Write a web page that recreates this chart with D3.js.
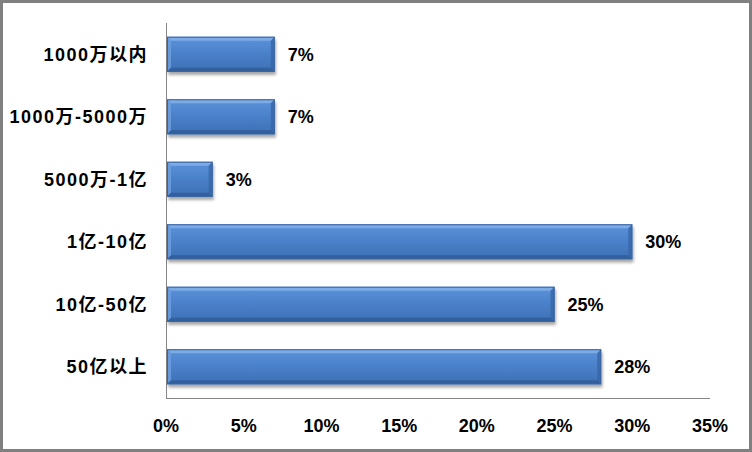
<!DOCTYPE html>
<html><head><meta charset="utf-8">
<script src="https://cdn.jsdelivr.net/npm/d3@7"></script>
<style>html,body{margin:0;padding:0;background:#fff;}svg{display:block;}</style>
</head><body>
<script>
const categories = ["1000万以内","1000万-5000万","5000万-1亿","1亿-10亿","10亿-50亿","50亿以上"];
const values = [7, 7, 3, 30, 25, 28];
const tickValues = [0,5,10,15,20,25,30,35];

const W = 752, H = 452;
const margin = {left:166, right:42, top:23, bottom:54};
const svg = d3.select("body").append("svg").attr("width", W).attr("height", H);
const defs = svg.append("defs");
const g1 = defs.append("linearGradient").attr("id","barGrad").attr("x1",0).attr("y1",0).attr("x2",0).attr("y2",1);
g1.append("stop").attr("offset","0%").attr("stop-color","#5b93da");
g1.append("stop").attr("offset","50%").attr("stop-color","#4a80c9");
g1.append("stop").attr("offset","100%").attr("stop-color","#3d70b4");
const f = defs.append("filter").attr("id","shadow").attr("x","-10%").attr("y","-20%").attr("width","130%").attr("height","160%");
f.append("feGaussianBlur").attr("in","SourceAlpha").attr("stdDeviation",1.5).attr("result","b");
f.append("feOffset").attr("in","b").attr("dx",1).attr("dy",3).attr("result","o");
f.append("feComponentTransfer").attr("in","o").attr("result","o2").append("feFuncA").attr("type","linear").attr("slope",0.35);
const fm = f.append("feMerge"); fm.append("feMergeNode").attr("in","o2"); fm.append("feMergeNode").attr("in","SourceGraphic");

// outer border
svg.append("rect").attr("x",1.5).attr("y",1.5).attr("width",W-3).attr("height",H-3)
  .attr("fill","#fff").attr("stroke","#808080").attr("stroke-width",3);

const x = d3.scaleLinear().domain([0,35]).range([margin.left, W-margin.right]);
const y = d3.scaleBand().domain(categories).range([margin.top, H-margin.bottom]).paddingInner(0.44).paddingOuter(0.22);

const font = "'Liberation Sans','Noto Sans CJK SC',sans-serif";

// axes lines
svg.append("line").attr("x1",x(0)+0.5).attr("x2",x(0)+0.5).attr("y1",margin.top).attr("y2",H-margin.bottom)
  .attr("stroke","#868686").attr("stroke-width",1);
svg.append("line").attr("x1",x(0)).attr("x2",x(35)).attr("y1",H-margin.bottom+0.5).attr("y2",H-margin.bottom+0.5)
  .attr("stroke","#868686").attr("stroke-width",1);

// bars
const bars = svg.append("g").selectAll("g").data(categories).join("g").attr("filter","url(#shadow)");
const bv = 4;
bars.each(function(c,i){
  const gg = d3.select(this);
  const x0 = x(0)+1, x1 = x(values[i]), y0 = y(c), h = y.bandwidth(), y1 = y0+h;
  gg.append("rect").attr("x",x0).attr("y",y0).attr("width",x1-x0).attr("height",h).attr("fill","url(#barGrad)");
  gg.append("polygon").attr("points",[[x0,y0],[x1,y0],[x1-bv,y0+bv],[x0+bv,y0+bv]].join(" ")).attr("fill","#84b2ea").attr("opacity",0.8);
  gg.append("polygon").attr("points",[[x0,y0],[x0+bv,y0+bv],[x0+bv,y1-bv],[x0,y1]].join(" ")).attr("fill","#6ea0e0").attr("opacity",0.8);
  gg.append("polygon").attr("points",[[x1,y0],[x1,y1],[x1-bv,y1-bv],[x1-bv,y0+bv]].join(" ")).attr("fill","#3766a6").attr("opacity",0.8);
  gg.append("polygon").attr("points",[[x0,y1],[x0+bv,y1-bv],[x1-bv,y1-bv],[x1,y1]].join(" ")).attr("fill","#2f5a97").attr("opacity",0.8);
  gg.append("rect").attr("x",x0+0.5).attr("y",y0+0.5).attr("width",x1-x0-1).attr("height",h-1).attr("fill","none").attr("stroke","#3b64a0").attr("stroke-width",1);
});

// value labels
svg.append("g").selectAll("text").data(categories).join("text")
  .attr("x",(c,i)=>x(values[i])+13).attr("y",c=>y(c)+y.bandwidth()/2).attr("dy","0.35em")
  .attr("font-family",font).attr("font-weight","bold").attr("font-size",18).attr("fill","#000")
  .text((c,i)=>values[i]+"%");

// category labels
svg.append("g").selectAll("text").data(categories).join("text")
  .attr("x",x(0)-18).attr("y",c=>y(c)+y.bandwidth()/2).attr("dy","0.35em").attr("text-anchor","end")
  .attr("font-family",font).attr("font-weight","bold").attr("font-size",18).attr("letter-spacing",1.5).attr("fill","#000")
  .text(c=>c);

// tick labels
svg.append("g").selectAll("text").data(tickValues).join("text")
  .attr("x",d=>x(d)).attr("y",426).attr("dy","0.35em").attr("text-anchor","middle")
  .attr("font-family",font).attr("font-weight","bold").attr("font-size",18).attr("fill","#000")
  .text(d=>d+"%");
</script>
</body></html>
